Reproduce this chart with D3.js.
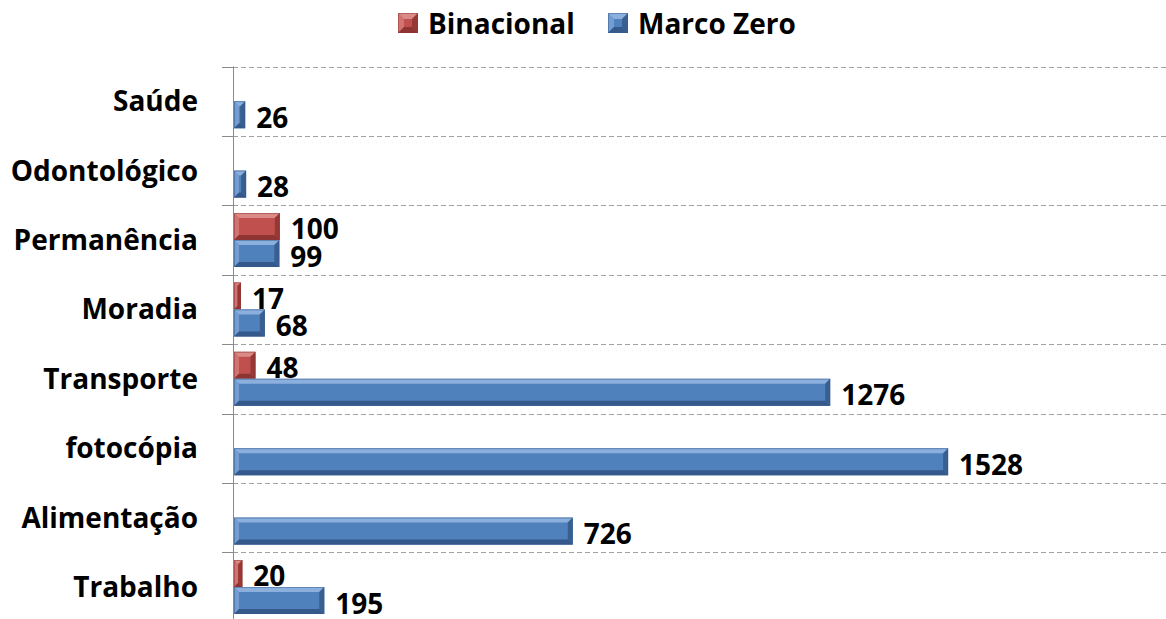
<!DOCTYPE html>
<html>
<head>
<meta charset="utf-8">
<script src="https://cdn.jsdelivr.net/npm/d3@7"></script>
<style>
  body { margin: 0; background: #fff; }
  svg { display: block; }
</style>
</head>
<body>
<svg id="chart"></svg>
<script>
var categories = ["Saúde", "Odontológico", "Permanência", "Moradia", "Transporte", "fotocópia", "Alimentação", "Trabalho"];
var seriesNames = ["Binacional", "Marco Zero"];
var binacional = [null, null, 100, 17, 48, null, null, 20];
var marcoZero = [26, 28, 99, 68, 1276, 1528, 726, 195];

var colors = {
	"Binacional": { base: "#c0504d", light: "#dc8a87", dark: "#8e3533" },
	"Marco Zero": { base: "#4f81bd", light: "#8cb0de", dark: "#35598a" }
};

var W = 1166, H = 619;
var font = "'Open Sans', sans-serif";

var svg = d3.select("#chart")
	.attr("width", W)
	.attr("height", H);

var x = d3.scaleLinear().domain([0, 2000]).range([233, 1169]);
var y = d3.scaleBand().domain(categories).range([66.5, 66.5 + 8 * 69.4]);
var ySub = d3.scaleBand().domain(seriesNames).range([0, y.bandwidth()]).paddingOuter(0.285);

// gridlines (dashed) at band boundaries
var bounds = categories.map(function(c) { return y(c); });
bounds.push(y.range()[1]);
svg.append("g").selectAll("line")
	.data(bounds)
	.enter().append("line")
	.attr("x1", x(0)).attr("x2", W)
	.attr("y1", function(d) { return Math.round(d) + 0.5; })
	.attr("y2", function(d) { return Math.round(d) + 0.5; })
	.attr("stroke", "#a0a0a0")
	.attr("stroke-width", 1)
	.attr("stroke-dasharray", "5,3");

// tick marks
svg.append("g").selectAll("line")
	.data(bounds)
	.enter().append("line")
	.attr("x1", 222).attr("x2", x(0))
	.attr("y1", function(d) { return Math.round(d) + 0.5; })
	.attr("y2", function(d) { return Math.round(d) + 0.5; })
	.attr("stroke", "#8a8a8a");

// axis line
svg.append("line")
	.attr("x1", Math.round(x(0)) + 0.5).attr("x2", Math.round(x(0)) + 0.5)
	.attr("y1", y.range()[0]).attr("y2", H)
	.attr("stroke", "#8a8a8a");

// category labels
svg.append("g").selectAll("text")
	.data(categories)
	.enter().append("text")
	.attr("x", 198)
	.attr("y", function(d) { return y(d) + y.bandwidth() / 2 - 1; })
	.attr("text-anchor", "end")
	.attr("dominant-baseline", "central")
	.attr("font-family", font)
	.attr("font-weight", "bold")
	.attr("font-size", "28px")
	.attr("fill", "#000")
	.text(function(d) { return d; });

// beveled box, like the excel style
function bevelBox(g, bx, by, bw, bh, c, b) {
	b = Math.min(b, bw / 2, bh / 2);
	var x0 = bx, x1 = bx + bw, y0 = by, y1 = by + bh;
	g.append("rect")
		.attr("x", x0).attr("y", y0).attr("width", bw).attr("height", bh)
		.attr("fill", c.base);
	var faces = [
		{ pts: [[x0, y0], [x1, y0], [x1 - b, y0 + b], [x0 + b, y0 + b]], fill: c.light, op: 1 },
		{ pts: [[x0, y0], [x0 + b, y0 + b], [x0 + b, y1 - b], [x0, y1]], fill: c.light, op: 0.6 },
		{ pts: [[x0, y1], [x0 + b, y1 - b], [x1 - b, y1 - b], [x1, y1]], fill: c.dark, op: 1 },
		{ pts: [[x1, y0], [x1, y1], [x1 - b, y1 - b], [x1 - b, y0 + b]], fill: c.dark, op: 0.85 }
	];
	faces.forEach(function(f) {
		g.append("polygon")
			.attr("points", f.pts.map(function(p) { return p.join(","); }).join(" "))
			.attr("fill", f.fill)
			.attr("fill-opacity", f.op);
	});
	g.append("rect")
		.attr("x", x0 + 0.5).attr("y", y0 + 0.5).attr("width", Math.max(bw - 1, 0)).attr("height", bh - 1)
		.attr("fill", "none")
		.attr("stroke", c.dark)
		.attr("stroke-opacity", 0.5);
}

var rows = [];
categories.forEach(function(cat, i) {
	rows.push({ cat: cat, series: "Binacional", value: binacional[i] });
	rows.push({ cat: cat, series: "Marco Zero", value: marcoZero[i] });
});
rows = rows.filter(function(d) { return d.value != null; });

var bars = svg.append("g");
rows.forEach(function(d) {
	var by = y(d.cat) + ySub(d.series);
	bevelBox(bars, x(0) + 1, by, x(d.value) - x(0) - 1, ySub.bandwidth(), colors[d.series], 5);
});

// value labels
svg.append("g").selectAll("text")
	.data(rows)
	.enter().append("text")
	.attr("x", function(d) { return x(d.value) + 11; })
	.attr("y", function(d) { return y(d.cat) + ySub(d.series) + ySub.bandwidth() / 2 + 2; })
	.attr("dominant-baseline", "central")
	.attr("font-family", font)
	.attr("font-weight", "bold")
	.attr("font-size", "28px")
	.attr("fill", "#000")
	.text(function(d) { return d.value; });

// legend
var legendX = [398, 608];
var legend = svg.append("g");
seriesNames.forEach(function(s, i) {
	bevelBox(legend, legendX[i], 13, 20, 20, colors[s], 6);
	legend.append("text")
		.attr("x", legendX[i] + 30)
		.attr("y", 23)
		.attr("dominant-baseline", "central")
		.attr("font-family", font)
		.attr("font-weight", "bold")
		.attr("font-size", "28px")
		.attr("fill", "#000")
		.text(s);
});
</script>
</body>
</html>
